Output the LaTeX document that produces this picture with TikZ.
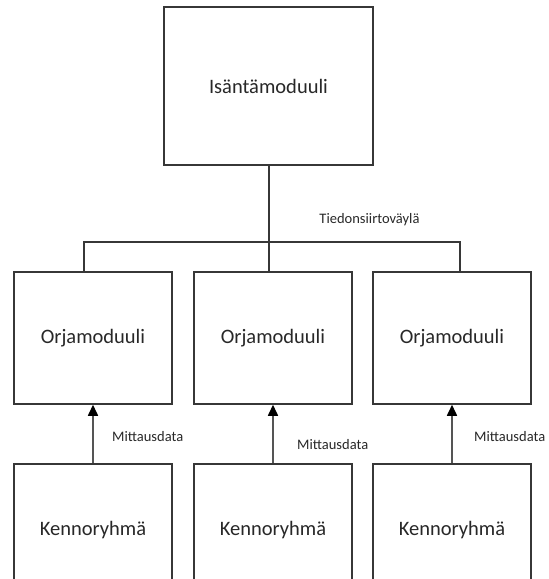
\documentclass[tikz,border=0pt]{standalone}
\usepackage{fontspec}
\setmainfont{Carlito}
\usetikzlibrary{arrows.meta}
\definecolor{edge}{RGB}{55,55,55}
\definecolor{txt}{RGB}{40,40,40}
\begin{document}
\begin{tikzpicture}[x=1pt,y=-1pt,
  box/.style={draw=edge,line width=1.5pt,fill=white,minimum width=158pt,minimum height=132pt,inner sep=0pt,text=txt,font=\fontsize{20.5}{24}\selectfont},
  wire/.style={draw=edge,line width=1.5pt},
  flow/.style={draw=edge!85,line width=1.6pt,-{Triangle[length=11pt,width=10pt,fill=black,color=black]}},
  lbl/.style={text=txt,font=\fontsize{14.5}{16}\selectfont,inner sep=0pt}]
\useasboundingbox (0,0) rectangle (549,579);
\clip (0,0) rectangle (549,579);
\node[box,minimum width=209pt,minimum height=158pt] (top) at (268.5,86) {Isäntämoduuli};
\node[box] (o1) at (93,338) {Orjamoduuli};
\node[box] (o2) at (273,338) {Orjamoduuli};
\node[box] (o3) at (452,338) {Orjamoduuli};
\node[box] (k1) at (93,530) {Kennoryhmä};
\node[box] (k2) at (273,530) {Kennoryhmä};
\node[box] (k3) at (452,530) {Kennoryhmä};
\coordinate (bm) at (269,242);
\coordinate (bl) at (84,242);
\coordinate (br) at (460,242);
\draw[wire] (bm |- top.south) -- (bm) -- (bm |- o2.north);
\draw[wire] (bl |- o1.north) -- (bl) -- (br) -- (br |- o3.north);
\node[lbl] (bus) at (369.5,220) {Tiedonsiirtoväylä};
\draw[flow] (k1.north) -- (o1.south);
\draw[flow] (k2.north) -- (o2.south);
\draw[flow] (k3.north) -- (o3.south);
\node[lbl,anchor=west] (m1) at (112,437) {Mittausdata};
\node[lbl,anchor=west] (m2) at (297,445) {Mittausdata};
\node[lbl,anchor=west] (m3) at (474,437) {Mittausdata};
\end{tikzpicture}
\end{document}
